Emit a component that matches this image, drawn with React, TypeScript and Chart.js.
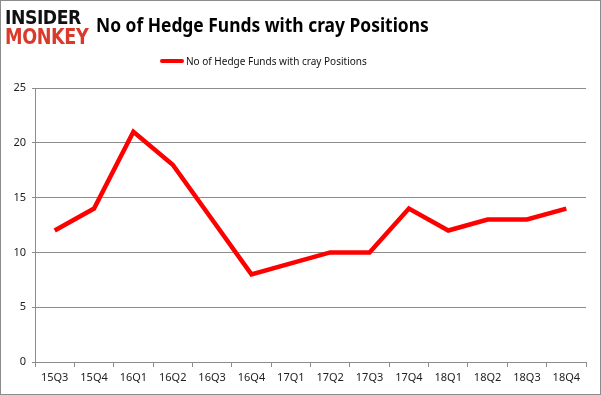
import React, { useEffect, useRef } from "react";
import { Chart, registerables } from "chart.js";

Chart.register(...registerables);

const categories = ["15Q3", "15Q4", "16Q1", "16Q2", "16Q3", "16Q4", "17Q1", "17Q2", "17Q3", "17Q4", "18Q1", "18Q2", "18Q3", "18Q4"];
const fundCounts = [12, 14, 21, 18, 13, 8, 9, 10, 10, 14, 12, 13, 13, 14];
const seriesLabel = "No of Hedge Funds with cray Positions";
const titleText = "No of Hedge Funds with cray Positions";

export default function App() {
  const canvasRef = useRef<HTMLCanvasElement | null>(null);

  useEffect(() => {
    document.body.style.margin = "0";
    const ctx = canvasRef.current!;
    const chart = new Chart(ctx, {
      type: "line",
      data: {
        labels: categories,
        datasets: [
          {
            label: seriesLabel,
            data: fundCounts,
            borderColor: "#ff0000",
            backgroundColor: "#ff0000",
            borderWidth: 4.5,
            pointRadius: 0,
            tension: 0,
          },
        ],
      },
      options: {
        animation: false,
        responsive: false,
        maintainAspectRatio: false,
        layout: { padding: { top: 88, right: 15, bottom: 0, left: 0 } },
        plugins: { legend: { display: false }, title: { display: false }, tooltip: { enabled: false } },
        scales: {
          x: {
            offset: true,
            grid: { display: true, drawOnChartArea: false, drawTicks: true, tickLength: 5, color: "#8c8c8c", offset: true },
            border: { display: true, color: "#8c8c8c" },
            ticks: { color: "#222", font: { family: "Noto Sans", size: 11 }, padding: 4, maxRotation: 0 },
            afterFit: (s: any) => { s.height = 33; },
          },
          y: {
            min: 0,
            max: 25,
            ticks: { stepSize: 5, color: "#222", font: { family: "Noto Sans", size: 11 }, padding: 6 },
            grid: { color: "#8c8c8c", tickLength: 3 },
            border: { display: true, color: "#8c8c8c" },
            afterFit: (s: any) => { s.width = 35; },
          },
        },
      },
    });
    return () => chart.destroy();
  }, []);

  return (
    <div style={{ position: "fixed", left: 0, top: 0, width: 601, height: 395, background: "#fff", overflow: "hidden" }}>
      <canvas ref={canvasRef} width={601} height={395} style={{ position: "absolute", left: 0, top: 0 }} />
      <div style={{ position: "absolute", left: 5, top: 7, fontFamily: "DejaVu Sans", fontWeight: 900, lineHeight: "20px", letterSpacing: "-0.5px" }}>
        <div style={{ color: "#111", fontSize: 20, transform: "scaleX(0.86)", transformOrigin: "left" }}>INSIDER</div>
        <div style={{ color: "#d93a2b", fontSize: 21, transform: "scaleX(0.84)", transformOrigin: "left" }}>MONKEY</div>
      </div>
      <div style={{ position: "absolute", left: 96, top: 11, fontFamily: "Noto Sans", fontWeight: 700, fontSize: 20, color: "#000", whiteSpace: "nowrap", transform: "scaleX(0.87)", transformOrigin: "left" }}>
        {titleText}
      </div>
      <div style={{ position: "absolute", left: 160, top: 53, display: "flex", alignItems: "center", fontFamily: "Noto Sans", fontSize: 11, color: "#111", whiteSpace: "nowrap" }}>
        <span style={{ display: "inline-block", width: 24, height: 4, background: "#ff0000", borderRadius: 2, marginRight: 2 }} />
        <span style={{ display: "inline-block", transform: "scaleX(0.91)", transformOrigin: "left" }}>{seriesLabel}</span>
      </div>
      <div style={{ position: "absolute", left: 0, top: 0, width: 599, height: 393, border: "1px solid #8c8c8c", pointerEvents: "none" }} />
    </div>
  );
}
